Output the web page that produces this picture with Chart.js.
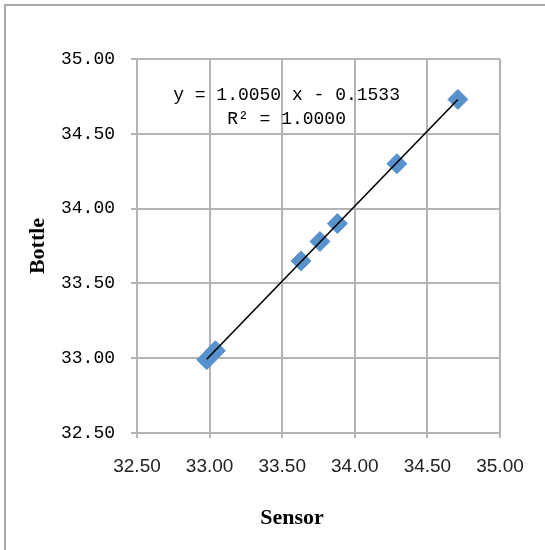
<!DOCTYPE html>
<html>
<head>
<meta charset="utf-8">
<script src="https://cdn.jsdelivr.net/npm/chart.js@4/dist/chart.umd.min.js"></script>
<style>
    body { margin: 0; background: white; }
    #wrap { position: relative; width: 545px; height: 550px; }
</style>
</head>
<body>
<div id="wrap"><canvas id="mainDiagramm"></canvas></div>
<script>
// data
var sensor = [32.98, 33.04, 33.63, 33.76, 33.88, 34.29, 34.71];
var bottle = [32.99, 33.05, 33.65, 33.78, 33.90, 34.30, 34.73];
var axisTicks = [32.5, 33.0, 33.5, 34.0, 34.5, 35.0];
var equationLines = ["y = 1.0050 x - 0.1533", "R² = 1.0000"];

var gridGray = "#b4b4b4";

// linear fit, like the Excel trendline
function fitLine(xs, ys) {
    var n = xs.length, sx = 0, sy = 0, sxx = 0, sxy = 0;
    for (var i = 0; i < n; i++) {
        sx += xs[i]; sy += ys[i];
        sxx += xs[i] * xs[i]; sxy += xs[i] * ys[i];
    }
    var slope = (n * sxy - sx * sy) / (n * sxx - sx * sx);
    return { slope: slope, intercept: (sy - slope * sx) / n };
}

var fit = fitLine(sensor, bottle);
var xMin = Math.min.apply(null, sensor);
var xMax = Math.max.apply(null, sensor);

var points = sensor.map(function (x, i) { return { x: x, y: bottle[i] }; });
var trend = [xMin, xMax].map(function (x) { return { x: x, y: fit.slope * x + fit.intercept }; });

var extras = {
    id: "extras",
    beforeDraw: function (chart) {
        var ctx = chart.ctx;
        ctx.save();
        ctx.fillStyle = "#a8a8a8";
        ctx.fillRect(4, 4, chart.width - 4, 2);
        ctx.fillRect(4, 4, 2, chart.height - 4);
        ctx.restore();
    },
    afterDatasetsDraw: function (chart) {
        var ctx = chart.ctx;
        var xs = chart.scales.x, ys = chart.scales.y;
        ctx.save();
        ctx.fillStyle = "#000";
        ctx.textAlign = "center";
        ctx.textBaseline = "middle";
        ctx.font = "18px 'Liberation Mono'";
        ctx.fillText(equationLines[0], xs.getPixelForValue(33.53), ys.getPixelForValue(34.76));
        ctx.fillText(equationLines[1], xs.getPixelForValue(33.53), ys.getPixelForValue(34.595));
        // x axis title
        ctx.font = "bold 22px 'Liberation Serif'";
        ctx.fillText("Sensor", 292, 518);
        ctx.restore();
    }
};

var ctx = document.getElementById("mainDiagramm").getContext("2d");
var myChart = new Chart(ctx, {
    type: "scatter",
    data: {
        datasets: [
            {
                label: "trend",
                type: "line",
                data: trend,
                borderColor: "#000",
                borderWidth: 1.6,
                pointRadius: 0,
                fill: false,
                order: 1,
            },
            {
                label: "Bottle",
                data: points,
                pointStyle: "rectRot",
                pointRadius: 10,
                backgroundColor: "#5892cd",
                borderColor: "#5892cd",
                borderWidth: 1,
                order: 2,
            },
        ],
    },
    options: {
        responsive: true,
        maintainAspectRatio: false,
        animation: false,
        layout: { padding: { top: 59, right: 45, left: 0, bottom: 0 } },
        plugins: {
            legend: { display: false },
            tooltip: { enabled: false },
        },
        scales: {
            x: {
                type: "linear",
                min: 32.5,
                max: 35,
                afterBuildTicks: function (scale) {
                    scale.ticks = axisTicks.map(function (v) { return { value: v }; });
                },
                afterFit: function (scale) { scale.height = 117; },
                grid: { color: gridGray, lineWidth: 2, tickLength: 5, tickColor: gridGray },
                border: { color: gridGray, width: 2 },
                ticks: {
                    padding: 17,
                    color: "#222",
                    font: { family: "'Liberation Sans'", size: 19 },
                    callback: function (v) { return v.toFixed(2); },
                },
            },
            y: {
                type: "linear",
                min: 32.5,
                max: 35,
                afterBuildTicks: function (scale) {
                    scale.ticks = axisTicks.map(function (v) { return { value: v }; });
                },
                afterFit: function (scale) { scale.width = 137; },
                grid: { color: gridGray, lineWidth: 2, tickLength: 6, tickColor: gridGray },
                border: { color: gridGray, width: 2 },
                title: {
                    display: true,
                    text: "Bottle",
                    color: "#000",
                    padding: { top: 25, bottom: 0 },
                    font: { family: "'Liberation Serif'", size: 22, weight: "bold" },
                },
                ticks: {
                    padding: 16,
                    color: "#000",
                    font: { family: "'Liberation Mono'", size: 18 },
                    callback: function (v) { return v.toFixed(2); },
                },
            },
        },
    },
    plugins: [extras],
});
</script>
</body>
</html>
